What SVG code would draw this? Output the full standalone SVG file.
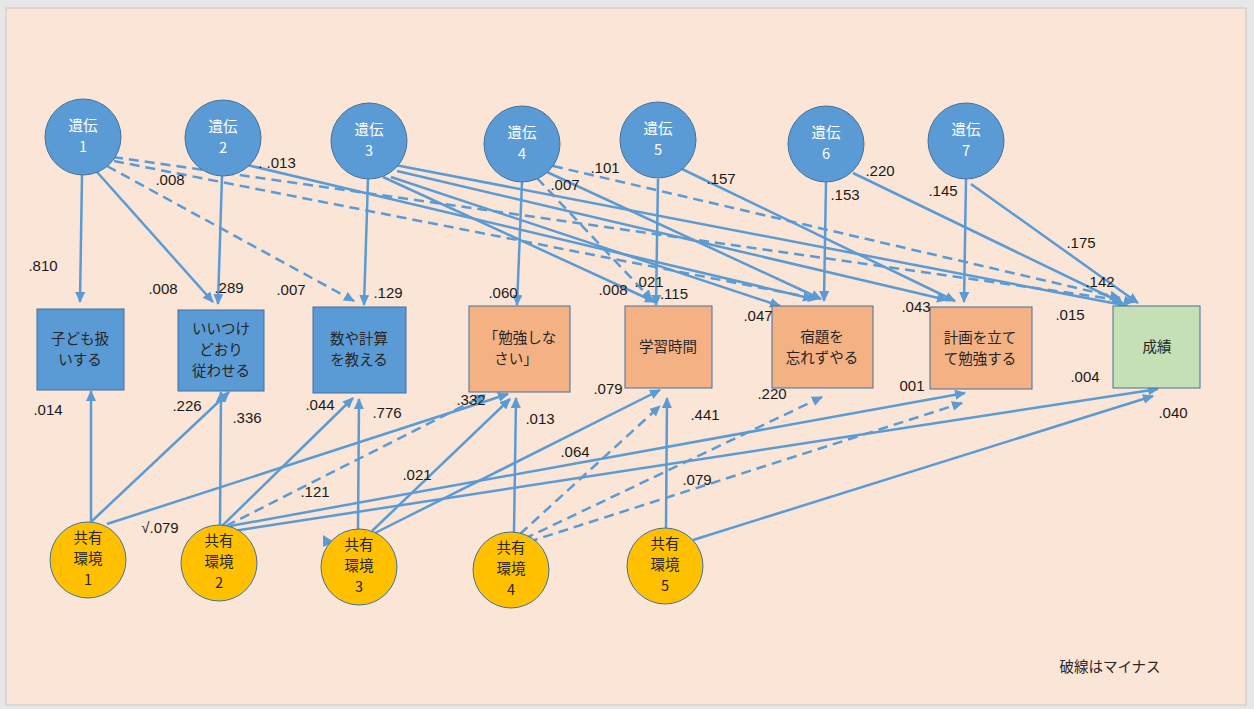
<svg xmlns="http://www.w3.org/2000/svg" width="1254" height="709" viewBox="0 0 1254 709">
<defs>
<marker id="ah" markerUnits="userSpaceOnUse" markerWidth="11" markerHeight="10" refX="10" refY="5" orient="auto"><path d="M0,0 L11,5 L0,10 z" fill="#5b9bd5"/></marker>
<style>
.gene{fill:#5b9bd5;stroke:#41719c;stroke-width:1}
.env{fill:#ffc000;stroke:#41719c;stroke-width:1}
.bb{fill:#5b9bd5;stroke:#41719c;stroke-width:1}
.bo{fill:#f4b183;stroke:#41719c;stroke-width:1}
.bg{fill:#c5e0b4;stroke:#41719c;stroke-width:1}
.c line{fill:none;stroke:#5b9bd5;stroke-width:2.5;marker-end:url(#ah)}
.c line.d{stroke-dasharray:10 6}
.lbl{font-family:"Liberation Sans","Noto Sans CJK JP",sans-serif;font-size:15px;fill:#1a1a1a;text-anchor:middle}
.jt{font-family:"Noto Sans CJK JP",sans-serif;font-size:14.5px;fill:#262626;text-anchor:middle}
.wt{font-family:"Noto Sans CJK JP",sans-serif;font-size:14.5px;fill:#ffffff;text-anchor:middle}
</style>
</defs>
<rect x="0" y="0" width="1254" height="709" fill="#e7e7e7"/>
<rect x="6" y="8" width="1240" height="697" fill="#fbe5d6" stroke="#c8c8c8" stroke-width="1"/>

<g id="connectors" class="c">
<line x1="82" y1="175" x2="80" y2="302"/>
<line x1="97" y1="172" x2="213" y2="302"/>
<line class="d" x1="107" y1="166" x2="354" y2="301"/>
<line class="d" x1="113" y1="157" x2="1134" y2="302"/>
<line class="d" x1="114" y1="161" x2="818" y2="299"/>
<line x1="222" y1="176" x2="218" y2="304"/>
<line x1="247" y1="165" x2="813" y2="299"/>
<line x1="368" y1="179" x2="364" y2="305"/>
<line x1="395" y1="165" x2="1128" y2="306"/>
<line x1="397" y1="171" x2="947" y2="300"/>
<line x1="383" y1="177" x2="655" y2="302"/>
<line x1="391" y1="177" x2="780" y2="306"/>
<line x1="522" y1="182" x2="517" y2="305"/>
<line class="d" x1="537" y1="178" x2="652" y2="300"/>
<line class="d" x1="553" y1="166" x2="1120" y2="298"/>
<line x1="547" y1="172" x2="821" y2="299"/>
<line x1="658" y1="179" x2="656" y2="305"/>
<line x1="682" y1="169" x2="955" y2="301"/>
<line x1="826" y1="182" x2="824" y2="301"/>
<line x1="853" y1="173" x2="1122" y2="303"/>
<line x1="966" y1="179" x2="964" y2="302"/>
<line x1="971" y1="184" x2="1138" y2="303"/>
<line x1="91" y1="522" x2="91" y2="391"/>
<line x1="92" y1="521" x2="229" y2="392"/>
<line x1="107" y1="524" x2="508" y2="394"/>
<line x1="220" y1="525" x2="221" y2="392"/>
<line x1="222" y1="526" x2="353" y2="398"/>
<line class="d" x1="226" y1="526" x2="485" y2="395"/>
<line x1="230" y1="526" x2="965" y2="393"/>
<line x1="233" y1="531" x2="1158" y2="389"/>
<line x1="358" y1="530" x2="359" y2="399"/>
<line x1="372" y1="531" x2="510" y2="399"/>
<line x1="375" y1="533" x2="660" y2="390"/>
<line x1="514" y1="532" x2="516" y2="398"/>
<line class="d" x1="520" y1="534" x2="660" y2="406"/>
<line class="d" x1="524" y1="539" x2="822" y2="397"/>
<line class="d" x1="528" y1="542" x2="962" y2="403"/>
<line x1="666" y1="528" x2="667" y2="398"/>
<line x1="693" y1="540" x2="1153" y2="396"/>
<polygon points="323,535 334,542 323,547" fill="#5b9bd5"/>
</g>

<g id="gene1"><circle class="gene" cx="83" cy="137" r="38"/><text class="wt" x="83" y="131">遺伝<tspan x="83" dy="21.2">1</tspan></text></g>
<g id="gene2"><circle class="gene" cx="223" cy="138" r="38"/><text class="wt" x="223" y="132">遺伝<tspan x="223" dy="21.2">2</tspan></text></g>
<g id="gene3"><circle class="gene" cx="369" cy="141" r="38"/><text class="wt" x="369" y="135">遺伝<tspan x="369" dy="21.2">3</tspan></text></g>
<g id="gene4"><circle class="gene" cx="522" cy="144" r="38"/><text class="wt" x="522" y="138">遺伝<tspan x="522" dy="21.2">4</tspan></text></g>
<g id="gene5"><circle class="gene" cx="658" cy="140" r="38"/><text class="wt" x="658" y="134">遺伝<tspan x="658" dy="21.2">5</tspan></text></g>
<g id="gene6"><circle class="gene" cx="826" cy="144" r="38"/><text class="wt" x="826" y="138">遺伝<tspan x="826" dy="21.2">6</tspan></text></g>
<g id="gene7"><circle class="gene" cx="966" cy="141" r="38"/><text class="wt" x="966" y="135">遺伝<tspan x="966" dy="21.2">7</tspan></text></g>

<g id="box1"><rect class="bb" x="37" y="309" width="87" height="81"/><text class="jt" x="80" y="344">子ども扱<tspan x="80" dy="21.2">いする</tspan></text></g>
<g id="box2"><rect class="bb" x="178" y="310" width="86" height="81"/><text class="jt" x="221" y="334">いいつけ<tspan x="221" dy="21.2">どおり</tspan><tspan x="221" dy="21.2">従わせる</tspan></text></g>
<g id="box3"><rect class="bb" x="313" y="307" width="93" height="86"/><text class="jt" x="359" y="343.5">数や計算<tspan x="359" dy="21.2">を教える</tspan></text></g>
<g id="box4"><rect class="bo" x="469" y="306" width="101" height="86"/><text class="jt" x="520" y="342.5">「勉強しな<tspan x="516" dy="21.2">さい」</tspan></text></g>
<g id="box5"><rect class="bo" x="625" y="306" width="87" height="82"/><text class="jt" x="668" y="351.5">学習時間</text></g>
<g id="box6"><rect class="bo" x="772" y="306" width="101" height="82"/><text class="jt" x="822" y="342">宿題を<tspan x="822" dy="21.2">忘れずやる</tspan></text></g>
<g id="box7"><rect class="bo" x="930" y="307" width="102" height="82"/><text class="jt" x="980" y="342.5">計画を立て<tspan x="980" dy="21.2">て勉強する</tspan></text></g>
<g id="box8"><rect class="bg" x="1113" y="306" width="87" height="82"/><text class="jt" x="1157" y="352">成績</text></g>

<g id="env1"><circle class="env" cx="88" cy="560" r="38"/><text class="jt" x="88" y="543">共有<tspan x="88" dy="21.2">環境</tspan><tspan x="88" dy="21.2">1</tspan></text></g>
<g id="env2"><circle class="env" cx="219" cy="563" r="38"/><text class="jt" x="219" y="546">共有<tspan x="219" dy="21.2">環境</tspan><tspan x="219" dy="21.2">2</tspan></text></g>
<g id="env3"><circle class="env" cx="359" cy="567" r="38"/><text class="jt" x="359" y="550">共有<tspan x="359" dy="21.2">環境</tspan><tspan x="359" dy="21.2">3</tspan></text></g>
<g id="env4"><circle class="env" cx="511" cy="570" r="38"/><text class="jt" x="511" y="553">共有<tspan x="511" dy="21.2">環境</tspan><tspan x="511" dy="21.2">4</tspan></text></g>
<g id="env5"><circle class="env" cx="665" cy="566" r="38"/><text class="jt" x="665" y="549">共有<tspan x="665" dy="21.2">環境</tspan><tspan x="665" dy="21.2">5</tspan></text></g>

<g id="labels">
<text class="lbl" x="43" y="271">.810</text>
<text class="lbl" x="170" y="185">.008</text>
<text class="lbl" x="277" y="168">. .013</text>
<text class="lbl" x="163" y="294">.008</text>
<text class="lbl" x="229" y="293">.289</text>
<text class="lbl" x="291" y="295">.007</text>
<text class="lbl" x="388" y="298">.129</text>
<text class="lbl" x="503" y="298">.060</text>
<text class="lbl" x="605" y="173">.101</text>
<text class="lbl" x="565" y="190">.007</text>
<text class="lbl" x="721" y="184">.157</text>
<text class="lbl" x="613" y="295">.008</text>
<text class="lbl" x="649" y="287">.021</text>
<text class="lbl" x="674" y="299">.115</text>
<text class="lbl" x="758" y="321">.047</text>
<text class="lbl" x="880" y="176">.220</text>
<text class="lbl" x="845" y="200">.153</text>
<text class="lbl" x="943" y="196">.145</text>
<text class="lbl" x="1081" y="248">.175</text>
<text class="lbl" x="1100" y="287">.142</text>
<text class="lbl" x="916" y="312">.043</text>
<text class="lbl" x="1070" y="320">.015</text>
<text class="lbl" x="1085" y="382">.004</text>
<text class="lbl" x="912" y="391">001</text>
<text class="lbl" x="1173" y="418">.040</text>
<text class="lbl" x="48" y="415">.014</text>
<text class="lbl" x="187" y="411">.226</text>
<text class="lbl" x="247" y="423">.336</text>
<text class="lbl" x="320" y="410">.044</text>
<text class="lbl" x="387" y="418">.776</text>
<text class="lbl" x="315" y="497">.121</text>
<text class="lbl" x="160" y="533">√.079</text>
<text class="lbl" x="471" y="405">.332</text>
<text class="lbl" x="540" y="424">.013</text>
<text class="lbl" x="417" y="480">.021</text>
<text class="lbl" x="608" y="394">.079</text>
<text class="lbl" x="705" y="420">.441</text>
<text class="lbl" x="575" y="457">.064</text>
<text class="lbl" x="697" y="485">.079</text>
<text class="lbl" x="772" y="399">.220</text>
<text class="jt" x="1110" y="672">破線はマイナス</text>
</g>
</svg>
